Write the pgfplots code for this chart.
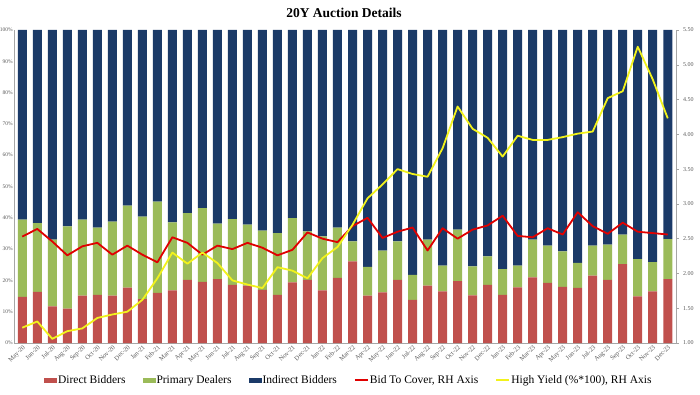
\documentclass[border=0pt]{standalone}
\usepackage{pgfplots}
\pgfplotsset{compat=1.18}
\usepackage{pgfplotstable}
\usepackage{fontspec}
\setmainfont{Liberation Serif}
\definecolor{dred}{HTML}{C0504D}
\definecolor{dgreen}{HTML}{9BBB59}
\definecolor{dnavy}{HTML}{1B3A68}
\definecolor{btc}{HTML}{E00000}
\definecolor{hy}{HTML}{F2F21C}
\definecolor{axgray}{HTML}{A6A6A6}
\definecolor{lblgray}{HTML}{595959}

\pgfplotstableread{
x D P I btc hy
0 14.7 24.7 60.6 2.53 1.22
1 16.3 22.0 61.7 2.64 1.31
2 11.7 21.3 67.0 2.46 1.06
3 11.0 26.3 62.7 2.26 1.17
4 15.1 24.3 60.6 2.39 1.21
5 15.4 21.5 63.1 2.44 1.36
6 15.1 23.7 61.2 2.27 1.41
7 17.7 26.2 56.1 2.40 1.45
8 14.0 26.4 59.6 2.27 1.62
9 16.0 29.2 54.8 2.16 1.93
10 16.8 21.7 61.5 2.52 2.30
11 20.2 21.3 58.5 2.44 2.14
12 19.5 23.6 56.9 2.27 2.30
13 20.4 17.7 61.9 2.40 2.15
14 18.6 21.0 60.4 2.35 1.90
15 18.3 19.5 62.2 2.44 1.84
16 17.0 18.9 64.1 2.37 1.79
17 15.4 19.7 64.9 2.26 2.09
18 19.4 20.5 60.1 2.34 2.04
19 20.2 15.5 64.3 2.59 1.93
20 16.8 17.3 65.9 2.50 2.22
21 20.8 16.1 63.1 2.45 2.38
22 26.1 6.4 67.5 2.68 2.70
23 15.1 9.2 75.7 2.80 3.08
24 16.2 13.3 70.5 2.51 3.28
25 20.2 12.3 67.5 2.60 3.50
26 13.8 8.0 78.2 2.66 3.43
27 18.3 14.7 67.0 2.33 3.39
28 16.5 8.2 75.3 2.65 3.80
29 19.8 16.4 63.8 2.50 4.40
30 15.2 9.3 75.5 2.63 4.08
31 18.6 9.1 72.3 2.69 3.95
32 15.4 8.2 76.4 2.83 3.68
33 17.8 6.9 75.3 2.54 3.98
34 21.0 12.0 67.0 2.52 3.92
35 19.2 11.9 68.9 2.65 3.92
36 17.9 11.4 70.7 2.56 3.96
37 17.6 8.0 74.4 2.88 4.01
38 21.5 9.6 68.9 2.68 4.04
39 20.2 11.2 68.6 2.57 4.52
40 25.2 9.4 65.4 2.73 4.62
41 14.9 11.9 73.2 2.60 5.26
42 16.5 9.3 74.2 2.58 4.79
43 20.4 12.8 66.8 2.56 4.23
}\data

\begin{document}
\begin{tikzpicture}
\begin{axis}[
  name=ax,
  scale only axis, width=662pt, height=313pt,
  xmin=-0.55, xmax=43.55, ymin=0, ymax=100,
  ybar stacked, bar width=9pt,
  axis x line*=bottom, axis y line*=left,
  axis line style={axgray, line width=0.6pt},
  xtick={0,...,43},
  xticklabels={May-20,Jun-20,Jul-20,Aug-20,Sep-20,Oct-20,Nov-20,Dec-20,Jan-21,Feb-21,Mar-21,Apr-21,May-21,Jun-21,Jul-21,Aug-21,Sep-21,Oct-21,Nov-21,Dec-21,Jan-22,Feb-22,Mar-22,Apr-22,May-22,Jun-22,Jul-22,Aug-22,Sep-22,Oct-22,Nov-22,Dec-22,Jan-23,Feb-23,Mar-23,Apr-23,May-23,Jun-23,Jul-23,Aug-23,Sep-23,Oct-23,Nov-23,Dec-23},
  xticklabel style={rotate=45, anchor=north east, font=\fontsize{6.5}{7}\selectfont, text=lblgray, inner sep=1pt},
  ytick={0,10,...,100},
  yticklabel={\pgfmathprintnumber{\tick}\%},
  yticklabel style={font=\fontsize{5.5}{6}\selectfont, text=lblgray, inner sep=1pt},
  /pgf/number format/assume math mode=true,
  major tick length=0pt,
  legend style={at={(0.505,-0.093)}, anchor=north, draw=none, fill=none,
    legend columns=5, font=\fontsize{11.5}{13}\selectfont,
    /tikz/every even column/.append style={column sep=16pt},
    nodes={inner sep=1pt}},
  legend cell align=left,
]
\addplot[fill=dred, draw=none, legend image code/.code={\fill[dred] (0pt,-2.5pt) rectangle (13pt,2.5pt);}] table[x=x,y=D]{\data};
\addlegendentry{Direct Bidders}
\addplot[fill=dgreen, draw=none, legend image code/.code={\fill[dgreen] (0pt,-2.5pt) rectangle (13pt,2.5pt);}] table[x=x,y=P]{\data};
\addlegendentry{Primary Dealers}
\addplot[fill=dnavy, draw=none, legend image code/.code={\fill[dnavy] (0pt,-2.5pt) rectangle (13pt,2.5pt);}] table[x=x,y=I]{\data};
\addlegendentry{Indirect Bidders}
\addlegendimage{legend image code/.code={\draw[btc, line width=2pt] (0pt,0pt) -- (13pt,0pt);}}
\addlegendentry{Bid To Cover, RH Axis}
\addlegendimage{legend image code/.code={\draw[hy, line width=2pt] (0pt,0pt) -- (13pt,0pt);}}
\addlegendentry{High Yield (\%*100), RH Axis}
\end{axis}
\begin{axis}[
  scale only axis, width=662pt, height=313pt,
  xmin=-0.55, xmax=43.55, ymin=1, ymax=5.5,
  axis y line*=right, axis x line=none,
  axis line style={axgray, line width=0.6pt},
  ytick={1,1.5,2,2.5,3,3.5,4,4.5,5,5.5},
  yticklabel style={font=\fontsize{6}{7}\selectfont, text=lblgray, inner sep=1pt, xshift=3pt,
    /pgf/number format/.cd, fixed, fixed zerofill, precision=2},
  /pgf/number format/assume math mode=true,
  tick align=outside, major tick length=3pt,
  tick style={axgray, line width=0.5pt},
]
\addplot[btc, line width=1.8pt, line join=round] table[x=x,y=btc]{\data};
\addplot[hy, line width=1.8pt, line join=round] table[x=x,y=hy]{\data};
\end{axis}
\node[font=\bfseries\fontsize{13.5}{15}\selectfont] at ([shift={(330pt,17pt)}]ax.north west) {20Y Auction Details};
\pgfresetboundingbox
\path ([shift={(-14pt,-51pt)}]ax.south west) rectangle ([shift={(24pt,30pt)}]ax.north east);
\end{tikzpicture}
\end{document}
